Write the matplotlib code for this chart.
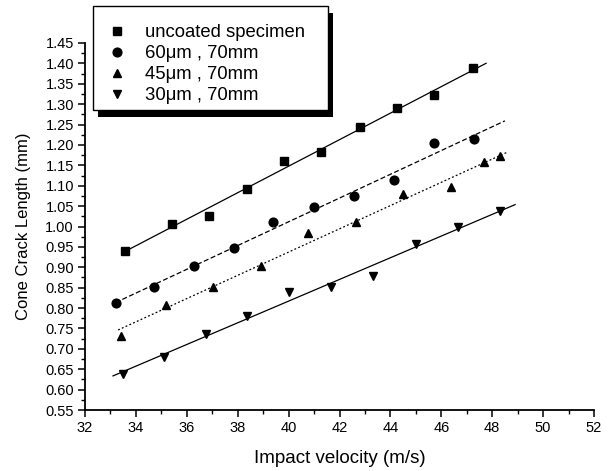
import matplotlib

matplotlib.use("Agg")
import matplotlib.pyplot as plt  # noqa: E402
import numpy as np  # noqa: E402
from matplotlib.patches import Rectangle  # noqa: E402
from matplotlib.ticker import MultipleLocator  # noqa: E402

plt.rcParams["font.family"] = ["Liberation Sans", "DejaVu Sans"]

# impact velocity (m/s) vs cone crack length (mm)
V_UNCOATED = [33.57, 35.42, 36.87, 38.36, 39.82, 41.27, 42.8, 44.26, 45.71, 47.24]
L_UNCOATED = [0.941, 1.007, 1.025, 1.093, 1.160, 1.183, 1.243, 1.290, 1.322, 1.388]

V_60 = [33.2, 34.7, 36.3, 37.87, 39.4, 41.0, 42.57, 44.15, 45.7, 47.3]
L_60 = [0.813, 0.852, 0.902, 0.948, 1.012, 1.047, 1.074, 1.113, 1.204, 1.214]

V_45 = [33.4, 35.2, 37.03, 38.9, 40.76, 42.65, 44.5, 46.4, 47.68, 48.3]
L_45 = [0.732, 0.808, 0.852, 0.902, 0.985, 1.012, 1.079, 1.096, 1.157, 1.172]

V_30 = [33.5, 35.1, 36.75, 38.36, 40.0, 41.67, 43.3, 45.0, 46.66, 48.3]
L_30 = [0.638, 0.680, 0.737, 0.781, 0.840, 0.852, 0.879, 0.958, 0.998, 1.037]

LABELS = ["uncoated specimen", "60\u03bcm , 70mm", "45\u03bcm , 70mm", "30\u03bcm , 70mm"]
# x extent of each linear fit line
FIT_RANGE = [(33.45, 47.76), (33.2, 48.5), (33.3, 48.6), (33.1, 48.9)]

series = [(V_UNCOATED, L_UNCOATED), (V_60, L_60), (V_45, L_45), (V_30, L_30)]
markers = ["s", "o", "^", "v"]
styles = ["-", (0, (4, 2)), (0, (1.5, 1.8)), "-"]

W, H = 616, 471
fig = plt.figure(figsize=(W / 100, H / 100), dpi=100)
ax = fig.add_axes([85 / W, 1 - 410 / H, 509 / W, 367 / H])

handles = []
for (v, l), m, ls, lab, rng in zip(series, markers, styles, LABELS, FIT_RANGE):
    h, = ax.plot(v, l, linestyle="none", marker=m, ms=6.3, color="black", label=lab)
    handles.append(h)
    k, b = np.polyfit(v, l, 1)
    xs = np.array(rng)
    ax.plot(xs, k * xs + b, color="black", lw=0.9, linestyle=ls)

ax.set_xlim(32, 52)
ax.set_ylim(0.55, 1.45)
ax.xaxis.set_major_locator(MultipleLocator(2))
ax.xaxis.set_minor_locator(MultipleLocator(1))
ax.yaxis.set_major_locator(MultipleLocator(0.05))
ax.yaxis.set_minor_locator(MultipleLocator(0.025))
ax.yaxis.set_major_formatter(plt.FormatStrFormatter("%.2f"))
for s in ("top", "right"):
    ax.spines[s].set_visible(False)
for s in ("left", "bottom"):
    ax.spines[s].set_linewidth(1.3)
ax.tick_params(which="major", direction="out", length=5, width=1.1, labelsize=10.5, pad=3)
ax.tick_params(which="minor", direction="out", length=3, width=1.0)
ax.set_xlabel("Impact velocity (m/s)", fontsize=13.5, labelpad=11)
ax.set_ylabel("Cone Crack Length (mm)", fontsize=12, labelpad=10)

# legend box: white frame with a heavy black drop shadow
fig.patches.append(Rectangle((98 / W, 1 - 117 / H), 235 / W, 104 / H,
                             transform=fig.transFigure, facecolor="black",
                             edgecolor="none", zorder=3))
fig.patches.append(Rectangle((93 / W, 1 - 110 / H), 235 / W, 104 / H,
                             transform=fig.transFigure, facecolor="white",
                             edgecolor="black", lw=1.0, zorder=4))

leg = fig.legend(handles=handles, loc="upper left",
                 bbox_to_anchor=(108 / W, 1 - 24 / H), bbox_transform=fig.transFigure,
                 borderaxespad=0, fontsize=13.3, frameon=False, handlelength=1.0,
                 handletextpad=1.0, borderpad=0, labelspacing=0.22)
leg.set_zorder(5)

fig.savefig("out.png", dpi=100)
